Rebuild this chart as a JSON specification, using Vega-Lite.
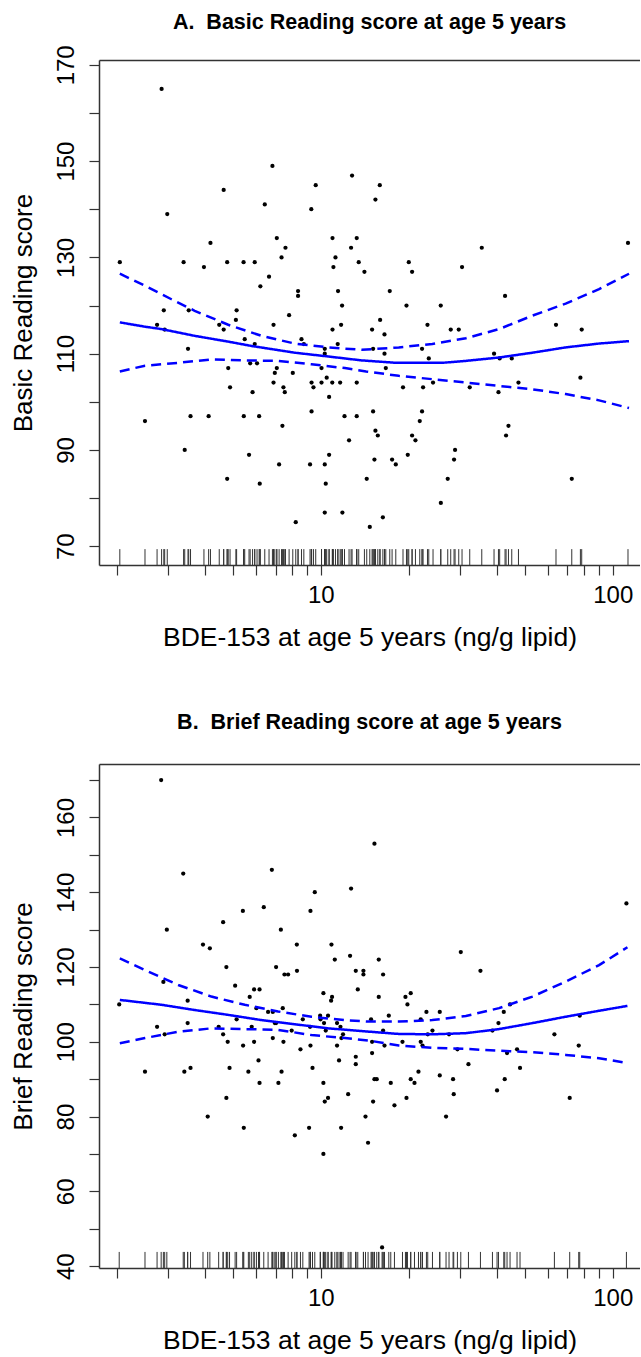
{
  "$schema": "https://vega.github.io/schema/vega-lite/v6.json",
  "background": "white",
  "padding": {"left": 10, "top": 12, "right": 0, "bottom": 0},
  "spacing": 59,
  "config": {"view": {"stroke": null}, "font": "Liberation Sans", "axis": {"grid": false}},
  "datasets": {
    "ptsA": [
      {"x":2.85,"y":165},{"x":2.98,"y":139},{"x":2.05,"y":129},{"x":3.39,"y":129},{"x":4.19,"y":133},{"x":3.98,"y":128},{"x":4.65,"y":144},{"x":4.78,"y":129},{"x":5.44,"y":129},{"x":5.94,"y":129},
      {"x":6.83,"y":149},{"x":6.43,"y":141},{"x":7.07,"y":134},{"x":7.34,"y":130},{"x":7.57,"y":132},{"x":6.65,"y":126},{"x":6.21,"y":124},{"x":9.28,"y":140},{"x":9.61,"y":145},{"x":8.36,"y":123},
      {"x":8.36,"y":122},{"x":7.79,"y":118},{"x":2.90,"y":119},{"x":2.75,"y":116},{"x":2.92,"y":115},{"x":3.53,"y":119},{"x":5.15,"y":119},{"x":5.12,"y":117},{"x":4.49,"y":116},{"x":4.65,"y":115},
      {"x":5.49,"y":113},{"x":5.94,"y":112},{"x":6.89,"y":116},{"x":8.59,"y":113},{"x":8.75,"y":112},{"x":12.8,"y":147},{"x":15.93,"y":145},{"x":15.39,"y":142},{"x":10.97,"y":134},{"x":13.28,"y":134},
      {"x":12.7,"y":132},{"x":11.23,"y":130},{"x":11.05,"y":128},{"x":13.49,"y":129},{"x":14.11,"y":127},{"x":35.6,"y":132},{"x":20.02,"y":129},{"x":20.55,"y":127},{"x":30.47,"y":128},{"x":112.8,"y":133},
      {"x":11.46,"y":123},{"x":11.83,"y":120},{"x":17.23,"y":123},{"x":19.66,"y":120},{"x":25.76,"y":120},{"x":42.78,"y":122},{"x":10.97,"y":115},{"x":11.74,"y":116},{"x":14.99,"y":115},{"x":15.97,"y":117},
      {"x":16.53,"y":114},{"x":23.2,"y":116},{"x":27.87,"y":115},{"x":29.69,"y":115},{"x":63.93,"y":116},{"x":78.3,"y":115},{"x":11.43,"y":112},{"x":10.32,"y":111},{"x":10.32,"y":110},{"x":3.51,"y":111},
      {"x":5.73,"y":108},{"x":6.05,"y":108},{"x":4.82,"y":107},{"x":7.07,"y":107},{"x":6.96,"y":106},{"x":8.02,"y":106},{"x":10.06,"y":107},{"x":6.89,"y":104},{"x":9.3,"y":104},{"x":10.06,"y":104},
      {"x":10.48,"y":105},{"x":10.95,"y":104},{"x":11.65,"y":104},{"x":13.28,"y":104},{"x":4.89,"y":103},{"x":7.45,"y":103},{"x":7.53,"y":102},{"x":9.44,"y":103},{"x":5.84,"y":102},{"x":10.68,"y":101},
      {"x":9.3,"y":98},{"x":2.50,"y":96},{"x":3.58,"y":97},{"x":4.13,"y":97},{"x":5.45,"y":97},{"x":6.15,"y":97},{"x":7.39,"y":95},{"x":12.06,"y":97},{"x":13.28,"y":97},{"x":12.5,"y":92},
      {"x":3.42,"y":90},{"x":5.68,"y":89},{"x":10.68,"y":89},{"x":7.2,"y":87},{"x":9.19,"y":87},{"x":10.32,"y":87},{"x":4.78,"y":84},{"x":6.18,"y":83},{"x":10.40,"y":83},{"x":14.37,"y":84},
      {"x":15.11,"y":111},{"x":16.53,"y":110},{"x":22.23,"y":111},{"x":23.44,"y":109},{"x":16.70,"y":107},{"x":39.22,"y":110},{"x":41.0,"y":109},{"x":45.1,"y":109},{"x":24.24,"y":104},{"x":19.13,"y":103},
      {"x":22.41,"y":103},{"x":32.38,"y":103},{"x":40.61,"y":102},{"x":47.55,"y":104},{"x":77.5,"y":105},{"x":15.11,"y":98},{"x":22.23,"y":98},{"x":21.83,"y":96},{"x":15.39,"y":94},{"x":15.68,"y":93},
      {"x":20.55,"y":93},{"x":21.1,"y":92},{"x":43.94,"y":95},{"x":43.12,"y":93},{"x":28.84,"y":90},{"x":28.61,"y":88},{"x":15.27,"y":88},{"x":17.55,"y":88},{"x":18.07,"y":87},{"x":19.86,"y":89},
      {"x":27.22,"y":84},{"x":72.4,"y":84},{"x":25.78,"y":79},{"x":10.32,"y":77},{"x":11.86,"y":77},{"x":16.32,"y":76},{"x":8.21,"y":75},{"x":14.72,"y":74}
    ],
    "curvesA": [
      {"x":2.05,"y":116.5,"s":"fit"},{"x":2.5,"y":115.6,"s":"fit"},{"x":2.85,"y":115.1,"s":"fit"},{"x":3.7,"y":113.7,"s":"fit"},{"x":4.82,"y":112.5,"s":"fit"},{"x":5.79,"y":111.6,"s":"fit"},{"x":8.14,"y":110.2,"s":"fit"},{"x":10.3,"y":109.5,"s":"fit"},{"x":13.8,"y":108.6,"s":"fit"},{"x":18.1,"y":108.1,"s":"fit"},{"x":26.1,"y":108.1,"s":"fit"},{"x":31.4,"y":108.5,"s":"fit"},{"x":40.8,"y":109.2,"s":"fit"},{"x":53.1,"y":110.2,"s":"fit"},{"x":69.0,"y":111.3,"s":"fit"},{"x":89.8,"y":112.1,"s":"fit"},{"x":113.7,"y":112.6,"s":"fit"},
      {"x":2.05,"y":126.6,"s":"hi"},{"x":2.5,"y":124.1,"s":"hi"},{"x":3.08,"y":121.3,"s":"hi"},{"x":3.7,"y":118.9,"s":"hi"},{"x":4.82,"y":116.0,"s":"hi"},{"x":6.27,"y":113.7,"s":"hi"},{"x":8.14,"y":112.1,"s":"hi"},{"x":10.6,"y":111.3,"s":"hi"},{"x":13.8,"y":110.8,"s":"hi"},{"x":18.5,"y":111.3,"s":"hi"},{"x":24.1,"y":112.0,"s":"hi"},{"x":31.4,"y":113.2,"s":"hi"},{"x":40.8,"y":115.1,"s":"hi"},{"x":53.1,"y":117.9,"s":"hi"},{"x":69.0,"y":120.4,"s":"hi"},{"x":89.8,"y":123.4,"s":"hi"},{"x":113.7,"y":126.6,"s":"hi"},
      {"x":2.05,"y":106.3,"s":"lo"},{"x":2.5,"y":107.5,"s":"lo"},{"x":3.25,"y":108.1,"s":"lo"},{"x":4.22,"y":108.8,"s":"lo"},{"x":5.49,"y":108.6,"s":"lo"},{"x":7.14,"y":108.5,"s":"lo"},{"x":9.29,"y":107.8,"s":"lo"},{"x":12.1,"y":107.0,"s":"lo"},{"x":14.3,"y":106.3,"s":"lo"},{"x":18.5,"y":105.4,"s":"lo"},{"x":24.1,"y":104.7,"s":"lo"},{"x":31.4,"y":104.0,"s":"lo"},{"x":40.8,"y":103.3,"s":"lo"},{"x":53.1,"y":102.6,"s":"lo"},{"x":69.0,"y":101.6,"s":"lo"},{"x":89.8,"y":100.3,"s":"lo"},{"x":113.7,"y":98.7,"s":"lo"}
    ],
    "ptsB": [
      {"x":2.84,"y":170},{"x":3.38,"y":145},{"x":2.97,"y":130},{"x":5.41,"y":135},{"x":4.63,"y":132},{"x":6.8,"y":146},{"x":6.38,"y":136},{"x":7.3,"y":130},{"x":3.95,"y":126},{"x":4.17,"y":125},
      {"x":8.28,"y":126},{"x":9.22,"y":135},{"x":9.54,"y":140},{"x":15.27,"y":153},{"x":12.7,"y":141},{"x":111.4,"y":137},{"x":10.88,"y":126},
      {"x":11.17,"y":122},{"x":12.6,"y":123},{"x":4.75,"y":120},{"x":7.03,"y":120},{"x":7.51,"y":118},{"x":7.73,"y":118},{"x":8.29,"y":119},{"x":13.18,"y":119},{"x":14.0,"y":119},{"x":14.0,"y":118},
      {"x":2.89,"y":116},{"x":5.09,"y":115},{"x":5.91,"y":114},{"x":6.17,"y":114},{"x":5.71,"y":112},{"x":3.5,"y":111},{"x":2.04,"y":110},{"x":10.21,"y":113},{"x":10.93,"y":112},{"x":10.85,"y":111},
      {"x":13.39,"y":114},{"x":6.02,"y":109},{"x":7.41,"y":109},{"x":6.6,"y":108},{"x":6.85,"y":108},{"x":5.15,"y":106},{"x":6.96,"y":105},{"x":7.03,"y":105},{"x":8.68,"y":106},{"x":9.95,"y":107},
      {"x":10.59,"y":107},{"x":9.98,"y":106},{"x":10.26,"y":105},{"x":3.5,"y":105},{"x":2.75,"y":104},{"x":4.47,"y":104},{"x":5.8,"y":104},{"x":9.19,"y":104},{"x":11.37,"y":105},{"x":11.68,"y":104},
      {"x":2.92,"y":102},{"x":4.63,"y":102},{"x":7.95,"y":103},{"x":10.4,"y":103},{"x":4.8,"y":100},{"x":5.91,"y":100},{"x":6.85,"y":101},{"x":7.45,"y":100},{"x":11.92,"y":102},{"x":11.77,"y":101},
      {"x":5.42,"y":99},{"x":9.22,"y":99},{"x":8.52,"y":98},{"x":11.37,"y":99},{"x":2.5,"y":92},{"x":3.41,"y":92},{"x":3.58,"y":93},{"x":4.87,"y":93},{"x":5.65,"y":92},{"x":6.12,"y":95},
      {"x":7.34,"y":92},{"x":9.37,"y":93},{"x":11.55,"y":95},{"x":13.18,"y":96},{"x":13.18,"y":94},{"x":6.17,"y":89},{"x":7.16,"y":89},{"x":10.21,"y":89},{"x":10.59,"y":85},{"x":10.32,"y":84},
      {"x":12.41,"y":86},{"x":4.75,"y":85},{"x":4.1,"y":80},{"x":5.45,"y":77},{"x":8.15,"y":75},{"x":9.12,"y":77},{"x":11.74,"y":77},{"x":14.23,"y":80},{"x":10.21,"y":70},{"x":14.52,"y":73},
      {"x":15.8,"y":122},{"x":30.17,"y":124},{"x":16.35,"y":118},{"x":35.23,"y":119},{"x":15.8,"y":112},{"x":19.5,"y":112},{"x":20.33,"y":113},{"x":19.81,"y":110},{"x":17.1,"y":107},{"x":23.01,"y":108},
      {"x":25.56,"y":108},{"x":14.87,"y":106},{"x":22.0,"y":106},{"x":44.5,"y":110},{"x":42.35,"y":108},{"x":40.61,"y":105},{"x":77.09,"y":107},{"x":16.35,"y":103},{"x":24.13,"y":103},{"x":23.25,"y":102},
      {"x":27.5,"y":102},{"x":38.73,"y":103},{"x":63.13,"y":102},{"x":14.99,"y":100},{"x":16.53,"y":99},{"x":19.05,"y":100},{"x":22.0,"y":100},{"x":22.31,"y":99},{"x":29.38,"y":98},{"x":47.02,"y":98},
      {"x":43.45,"y":97},{"x":76.48,"y":99},{"x":14.99,"y":97},{"x":32.05,"y":94},{"x":48.14,"y":93},{"x":21.61,"y":92},{"x":15.27,"y":90},{"x":15.55,"y":90},{"x":17.37,"y":89},{"x":20.33,"y":90},
      {"x":20.94,"y":89},{"x":25.56,"y":91},{"x":28.39,"y":90},{"x":42.67,"y":90},{"x":40.16,"y":87},{"x":28.54,"y":86},{"x":15.11,"y":84},{"x":17.88,"y":83},{"x":19.66,"y":85},{"x":71.23,"y":85},
      {"x":26.86,"y":80},{"x":16.22,"y":45}
    ],
    "curvesB": [
      {"x":2.05,"y":111.2,"s":"fit"},{"x":2.85,"y":109.9,"s":"fit"},{"x":3.7,"y":108.5,"s":"fit"},{"x":4.82,"y":107.2,"s":"fit"},{"x":6.27,"y":105.8,"s":"fit"},{"x":8.14,"y":104.7,"s":"fit"},{"x":10.6,"y":103.6,"s":"fit"},{"x":14.7,"y":102.7,"s":"fit"},{"x":18.5,"y":102.1,"s":"fit"},{"x":24.1,"y":102.0,"s":"fit"},{"x":31.4,"y":102.3,"s":"fit"},{"x":40.8,"y":103.4,"s":"fit"},{"x":53.1,"y":105.0,"s":"fit"},{"x":69.0,"y":106.7,"s":"fit"},{"x":89.8,"y":108.3,"s":"fit"},{"x":112.3,"y":109.6,"s":"fit"},
      {"x":2.05,"y":122.3,"s":"hi"},{"x":2.5,"y":119.2,"s":"hi"},{"x":3.25,"y":115.2,"s":"hi"},{"x":4.22,"y":112.1,"s":"hi"},{"x":5.49,"y":109.9,"s":"hi"},{"x":7.14,"y":108.1,"s":"hi"},{"x":9.29,"y":106.7,"s":"hi"},{"x":12.1,"y":105.8,"s":"hi"},{"x":14.7,"y":105.4,"s":"hi"},{"x":18.5,"y":105.4,"s":"hi"},{"x":24.1,"y":105.8,"s":"hi"},{"x":31.4,"y":106.9,"s":"hi"},{"x":40.8,"y":109.0,"s":"hi"},{"x":53.1,"y":112.1,"s":"hi"},{"x":69.0,"y":116.1,"s":"hi"},{"x":89.8,"y":120.5,"s":"hi"},{"x":112.3,"y":125.3,"s":"hi"},
      {"x":2.05,"y":99.6,"s":"lo"},{"x":2.5,"y":101.0,"s":"lo"},{"x":3.25,"y":102.7,"s":"lo"},{"x":4.22,"y":103.6,"s":"lo"},{"x":5.49,"y":103.4,"s":"lo"},{"x":7.14,"y":103.2,"s":"lo"},{"x":9.29,"y":101.8,"s":"lo"},{"x":12.1,"y":101.0,"s":"lo"},{"x":14.7,"y":100.3,"s":"lo"},{"x":18.5,"y":99.0,"s":"lo"},{"x":24.1,"y":98.4,"s":"lo"},{"x":31.4,"y":98.1,"s":"lo"},{"x":40.8,"y":97.6,"s":"lo"},{"x":53.1,"y":97.2,"s":"lo"},{"x":69.0,"y":96.5,"s":"lo"},{"x":89.8,"y":95.6,"s":"lo"},{"x":112.3,"y":94.3,"s":"lo"}
    ]
  },
  "vconcat": [
    {
      "width": 541,
      "height": 505,
      "title": {"text": "A.\u00a0 Basic Reading score at age 5 years", "fontSize": 21.5, "fontWeight": "bold", "font": "Liberation Sans", "anchor": "middle", "frame": "group", "baseline": "alphabetic", "offset": -6, "color": "#000000"},
      "resolve": {"axis": {"x": "independent"}},
      "layer": [
        {
          "data": {"name": "ptsA"},
          "mark": {"type": "circle", "color": "#000000", "size": 18, "opacity": 1},
          "encoding": {
            "x": {"field": "x", "type": "quantitative", "scale": {"type": "log", "domain": [1.7395, 124.0], "nice": false, "zero": false},
              "axis": {"orient": "bottom", "values": [2,3,4,5,6,7,8,9,10,20,30,40,50,60,70,80,90,100], "labelExpr": "datum.value == 10 ? '10' : datum.value == 100 ? '100' : ''", "tickSize": 10, "tickWidth": 1.2, "tickColor": "#333333", "domainColor": "#333333", "domainWidth": 1.5, "labelFontSize": 24, "labelPadding": 8.8, "labelColor": "#000000", "labelFlush": false, "labelOverlap": false, "title": "BDE-153 at age 5 years (ng/g lipid)", "titleFontSize": 26.5, "titleFontWeight": "normal", "titleColor": "#000000", "titlePadding": 17, "grid": false}},
            "y": {"field": "y", "type": "quantitative", "scale": {"domain": [66.1, 171.0], "nice": false, "zero": false},
              "axis": {"orient": "left", "values": [70,80,90,100,110,120,130,140,150,160,170], "labelExpr": "datum.value % 20 == 10 ? datum.label : ''", "labelAngle": -90, "labelAlign": "center", "labelBaseline": "alphabetic", "labelPadding": 15.3, "tickSize": 10, "tickWidth": 1.2, "tickColor": "#333333", "domainColor": "#333333", "domainWidth": 1.5, "labelFontSize": 24, "labelColor": "#000000", "labelFlush": false, "labelOverlap": false, "title": "Basic Reading score", "titleFontSize": 26, "titleFontWeight": "normal", "titleColor": "#000000", "titlePadding": 18, "grid": false}}
          }
        },
        {
          "data": {"name": "curvesA"},
          "mark": {"type": "line", "color": "#0000FF", "strokeWidth": 2.5},
          "encoding": {
            "x": {"field": "x", "type": "quantitative", "scale": {"type": "log", "domain": [1.7395, 124.0], "nice": false, "zero": false}, "axis": null},
            "y": {"field": "y", "type": "quantitative", "scale": {"domain": [66.1, 171.0], "nice": false, "zero": false},
              "axis": {"orient": "left", "values": [70,80,90,100,110,120,130,140,150,160,170], "labelExpr": "datum.value % 20 == 10 ? datum.label : ''", "labelAngle": -90, "labelAlign": "center", "labelBaseline": "alphabetic", "labelPadding": 15.3, "tickSize": 10, "tickWidth": 1.2, "tickColor": "#333333", "domainColor": "#333333", "domainWidth": 1.5, "labelFontSize": 24, "labelColor": "#000000", "labelFlush": false, "labelOverlap": false, "title": "Basic Reading score", "titleFontSize": 26, "titleFontWeight": "normal", "titleColor": "#000000", "titlePadding": 18, "grid": false}},
            "strokeDash": {"field": "s", "type": "nominal", "scale": {"domain": ["fit", "hi", "lo"], "range": [[1, 0], [10, 6], [10, 6]]}, "legend": null}
          }
        },
        {
          "data": {"name": "ptsA"},
          "mark": {"type": "rule", "color": "#333333", "strokeWidth": 1},
          "encoding": {
            "x": {"field": "x", "type": "quantitative", "scale": {"type": "log", "domain": [1.7395, 124.0], "nice": false, "zero": false},
              "axis": {"orient": "top", "domain": true, "ticks": false, "labels": false, "title": null, "grid": false, "domainColor": "#333333", "domainWidth": 1.5}},
            "y": {"datum": 66.1, "type": "quantitative", "scale": {"domain": [66.1, 171.0], "nice": false, "zero": false},
              "axis": {"orient": "left", "values": [70,80,90,100,110,120,130,140,150,160,170], "labelExpr": "datum.value % 20 == 10 ? datum.label : ''", "labelAngle": -90, "labelAlign": "center", "labelBaseline": "alphabetic", "labelPadding": 15.3, "tickSize": 10, "tickWidth": 1.2, "tickColor": "#333333", "domainColor": "#333333", "domainWidth": 1.5, "labelFontSize": 24, "labelColor": "#000000", "labelFlush": false, "labelOverlap": false, "title": "Basic Reading score", "titleFontSize": 26, "titleFontWeight": "normal", "titleColor": "#000000", "titlePadding": 18, "grid": false}},
            "y2": {"datum": 69.4}
          }
        }
      ]
    },
    {
      "width": 541,
      "height": 504,
      "title": {"text": "B.\u00a0 Brief Reading score at age 5 years", "fontSize": 21.5, "fontWeight": "bold", "font": "Liberation Sans", "anchor": "middle", "frame": "group", "baseline": "alphabetic", "offset": 14, "color": "#000000"},
      "resolve": {"axis": {"x": "independent"}},
      "layer": [
        {
          "data": {"name": "ptsB"},
          "mark": {"type": "circle", "color": "#000000", "size": 18, "opacity": 1},
          "encoding": {
            "x": {"field": "x", "type": "quantitative", "scale": {"type": "log", "domain": [1.7395, 124.0], "nice": false, "zero": false},
              "axis": {"orient": "bottom", "values": [2,3,4,5,6,7,8,9,10,20,30,40,50,60,70,80,90,100], "labelExpr": "datum.value == 10 ? '10' : datum.value == 100 ? '100' : ''", "tickSize": 10, "tickWidth": 1.2, "tickColor": "#333333", "domainColor": "#333333", "domainWidth": 1.5, "labelFontSize": 24, "labelPadding": 8.8, "labelColor": "#000000", "labelFlush": false, "labelOverlap": false, "title": "BDE-153 at age 5 years (ng/g lipid)", "titleFontSize": 26.5, "titleFontWeight": "normal", "titleColor": "#000000", "titlePadding": 17, "grid": false}},
            "y": {"field": "y", "type": "quantitative", "scale": {"domain": [39.5, 174.3], "nice": false, "zero": false},
              "axis": {"orient": "left", "values": [40,50,60,70,80,90,100,110,120,130,140,150,160,170], "labelExpr": "datum.value % 20 == 0 ? datum.label : ''", "labelAngle": -90, "labelAlign": "center", "labelBaseline": "alphabetic", "labelPadding": 15.3, "tickSize": 10, "tickWidth": 1.2, "tickColor": "#333333", "domainColor": "#333333", "domainWidth": 1.5, "labelFontSize": 24, "labelColor": "#000000", "labelFlush": false, "labelOverlap": false, "title": "Brief Reading score", "titleFontSize": 26, "titleFontWeight": "normal", "titleColor": "#000000", "titlePadding": 18, "grid": false}}
          }
        },
        {
          "data": {"name": "curvesB"},
          "mark": {"type": "line", "color": "#0000FF", "strokeWidth": 2.5},
          "encoding": {
            "x": {"field": "x", "type": "quantitative", "scale": {"type": "log", "domain": [1.7395, 124.0], "nice": false, "zero": false}, "axis": null},
            "y": {"field": "y", "type": "quantitative", "scale": {"domain": [39.5, 174.3], "nice": false, "zero": false},
              "axis": {"orient": "left", "values": [40,50,60,70,80,90,100,110,120,130,140,150,160,170], "labelExpr": "datum.value % 20 == 0 ? datum.label : ''", "labelAngle": -90, "labelAlign": "center", "labelBaseline": "alphabetic", "labelPadding": 15.3, "tickSize": 10, "tickWidth": 1.2, "tickColor": "#333333", "domainColor": "#333333", "domainWidth": 1.5, "labelFontSize": 24, "labelColor": "#000000", "labelFlush": false, "labelOverlap": false, "title": "Brief Reading score", "titleFontSize": 26, "titleFontWeight": "normal", "titleColor": "#000000", "titlePadding": 18, "grid": false}},
            "strokeDash": {"field": "s", "type": "nominal", "scale": {"domain": ["fit", "hi", "lo"], "range": [[1, 0], [10, 6], [10, 6]]}, "legend": null}
          }
        },
        {
          "data": {"name": "ptsB"},
          "mark": {"type": "rule", "color": "#333333", "strokeWidth": 1},
          "encoding": {
            "x": {"field": "x", "type": "quantitative", "scale": {"type": "log", "domain": [1.7395, 124.0], "nice": false, "zero": false},
              "axis": {"orient": "top", "domain": true, "ticks": false, "labels": false, "title": null, "grid": false, "domainColor": "#333333", "domainWidth": 1.5}},
            "y": {"datum": 39.5, "type": "quantitative", "scale": {"domain": [39.5, 174.3], "nice": false, "zero": false},
              "axis": {"orient": "left", "values": [40,50,60,70,80,90,100,110,120,130,140,150,160,170], "labelExpr": "datum.value % 20 == 0 ? datum.label : ''", "labelAngle": -90, "labelAlign": "center", "labelBaseline": "alphabetic", "labelPadding": 15.3, "tickSize": 10, "tickWidth": 1.2, "tickColor": "#333333", "domainColor": "#333333", "domainWidth": 1.5, "labelFontSize": 24, "labelColor": "#000000", "labelFlush": false, "labelOverlap": false, "title": "Brief Reading score", "titleFontSize": 26, "titleFontWeight": "normal", "titleColor": "#000000", "titlePadding": 18, "grid": false}},
            "y2": {"datum": 43.8}
          }
        }
      ]
    }
  ]
}
